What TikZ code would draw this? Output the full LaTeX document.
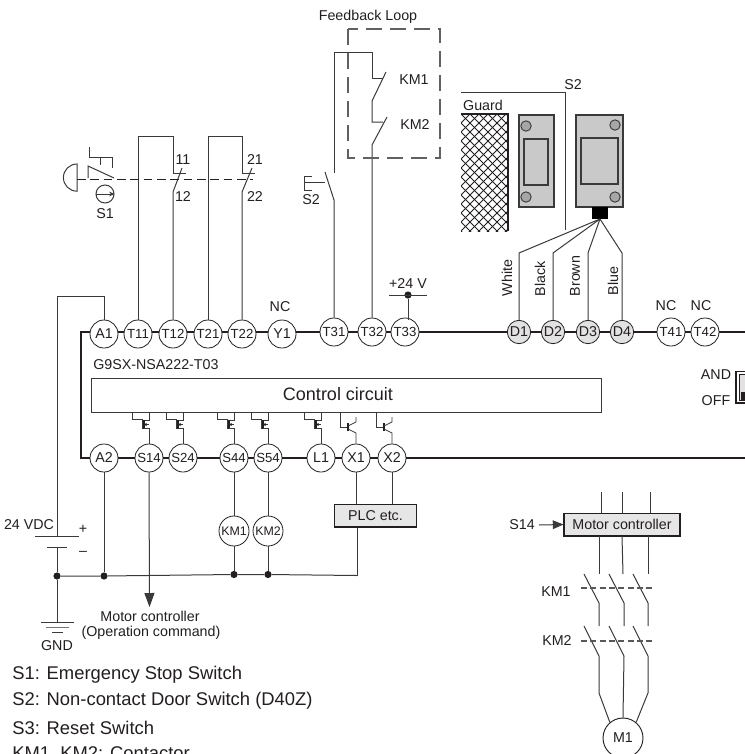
\documentclass[tikz,border=0pt]{standalone}
\usepackage{fontspec}
\setmainfont{Liberation Sans}
\usetikzlibrary{arrows.meta}
\definecolor{ink}{HTML}{231F20}
\definecolor{wire}{HTML}{3A3A3A}
\definecolor{sensor}{HTML}{C9C9C9}
\definecolor{bolt}{HTML}{A6A6A6}
\definecolor{termgray}{HTML}{E2E2E2}
\definecolor{boxgray}{HTML}{E6E6E6}
\newcommand\fsmall{\fontsize{10.7}{12.8}\selectfont}
\newcommand\fterm{\fontsize{9.9}{12}\selectfont}
\newcommand\fbig{\fontsize{13.8}{17}\selectfont}
\tikzset{
  wireline/.style={draw=wire,line width=0.75pt},
  busline/.style={draw=ink,line width=1.5pt,line join=miter},
  term/.style={circle,draw=ink,line width=0.6pt,fill=white,minimum size=21pt,inner sep=0pt,text=ink,font=\fterm},
  dterm/.style={term,fill=termgray,minimum size=17.5pt,font=\fsmall},
  coil/.style={term,minimum size=22.5pt,font=\fontsize{9.3}{11}\selectfont},
  lbl/.style={inner sep=0pt,text=ink,font=\fsmall},
  biglbl/.style={inner sep=0pt,text=ink,font=\fbig,anchor=west},
  graybox/.style={draw=ink,line width=0.8pt,fill=boxgray,inner sep=0pt,text=ink,font=\fsmall},
  fbdash/.style={draw=wire!80,line width=0.9pt,dash pattern=on 12pt off 6pt},
  stopdash/.style={draw=ink,line width=0.75pt,dash pattern=on 6.5pt off 3.5pt},
  kmdash/.style={draw=wire!85,line width=0.8pt,dash pattern=on 4.4pt off 2.6pt},
  jdot/.style={circle,fill=ink,inner sep=0pt,minimum size=5.4pt},
  sensorbody/.style={draw=wire,line width=0.8pt,fill=sensor},
  sensorbolt/.style={draw=wire,line width=0.7pt,fill=bolt},
}
\begin{document}
\begin{tikzpicture}[x=0.75pt,y=-0.75pt]
\useasboundingbox (0,0) rectangle (745,754);
\fill[white] (0,0) rectangle (745,754);

% ---- terminals
\foreach \n/\x in {A1/104,Y1/282}
  \node[term,font=\fsmall] (\n) at (\x,334) {\n};
\foreach \n/\x in {T11/138,T12/173,T21/208,T22/242}
  \node[term] (\n) at (\x,334) {\n};
\foreach \n/\x in {T31/334,T32/372,T33/405,T41/671,T42/705}
  \node[term] (\n) at (\x,332) {\n};
\foreach \n/\x in {D1/519,D2/553,D3/588,D4/622}
  \node[dterm] (\n) at (\x,332) {\n};
\foreach \n/\x in {A2/104,L1/321,X1/356,X2/392}
  \node[term,font=\fsmall] (\n) at (\x,458) {\n};
\foreach \n/\x in {S14/149,S24/183,S44/234,S54/268}
  \node[term] (\n) at (\x,458) {\n};

% ---- buses
\coordinate (busTL) at (81,332);
\coordinate (busBL) at (81,458);
\coordinate (busTR) at (745,332);
\coordinate (busBR) at (745,458);
\draw[busline] (A1.west |- busTL) -- (busTL) -- (busBL) -- (A2.west |- busBL);
\foreach \a/\b in {A1/T11,T11/T12,T12/T21,T21/T22,T22/Y1,Y1/T31,T31/T32,T32/T33,T33/D1,D1/D2,D2/D3,D3/D4,D4/T41,T41/T42}
  \draw[busline] (\a.east |- busTL) -- (\b.west |- busTL);
\draw[busline] (T42.east |- busTL) -- (busTR);
\foreach \a/\b in {A2/S14,S14/S24,S24/S44,S44/S54,S54/L1,L1/X1,X1/X2}
  \draw[busline] (\a.east |- busBL) -- (\b.west |- busBL);
\draw[busline] (X2.east |- busBL) -- (busBR);

% ---- control circuit
\node[lbl,anchor=west] (model) at (93,365) {G9SX-NSA222-T03};
\node[draw=wire,line width=0.8pt,minimum width=382.5pt,minimum height=25.5pt,inner sep=0pt,anchor=north west] (ctrl) at (91,378) {};
\node[inner sep=0pt,text=ink,font=\fontsize{13.5}{16}\selectfont] (ctrltxt) at (338,394) {Control circuit};
\foreach \t/\m in {S14/149,S24/183,S44/234,S54/268,L1/321}{
  \draw[wireline,line width=0.65pt] (\m,412) -- (\m,420) -- (\m-5,420);
  \draw[wireline,line width=0.65pt] (\m-17,412) -- (\m-17,419) -- (\m-7,419) -- (\m-7,429);
  \draw[draw=ink,line width=1pt] (\m-5,420) -- (\m-5,429);
  \draw[wireline,line width=0.65pt] (\m-5,424.5) -- (\m,424.5);
  \fill[ink] (\m-5,424.5) -- (\m-2.5,423) -- (\m-2.5,426) -- cycle;
  \draw[wireline,line width=0.65pt] (\m-5,428) -- (\m,428) -- (\t.north);
}
\foreach \t/\m in {X1/356,X2/392}{
  \draw[wireline,line width=0.65pt] (\m-16,412) -- (\m-16,427) -- (\m-8,427);
  \draw[draw=ink,line width=1pt] (\m-8,423) -- (\m-8,431);
  \draw[wireline,line width=0.65pt] (\m-8,426) -- (\m,422) -- (\m,417);
  \draw[wireline,line width=0.65pt] (\m-8,429) -- (\m,433) -- (\t.north);
}

% ---- emergency stop S1
\coordinate (t11top) at (138,136);
\coordinate (t11turn) at (173,136);
\coordinate (c11a) at (173,173);
\coordinate (c11b) at (186,173);
\coordinate (c12) at (173,192);
\coordinate (c12tip) at (182,168);
\draw[wireline] (T11.north) -- (t11top) -- (t11turn) -- (c11a) -- (c11b);
\draw[wireline] (T12.north) -- (c12) -- (c12tip);
\coordinate (t21top) at (208,136);
\coordinate (t21turn) at (242,136);
\coordinate (c21a) at (242,173);
\coordinate (c21b) at (255,173);
\coordinate (c22) at (242,192);
\coordinate (c22tip) at (252,168);
\draw[wireline] (T21.north) -- (t21top) -- (t21turn) -- (c21a) -- (c21b);
\draw[wireline] (T22.north) -- (c22) -- (c22tip);
\node[lbl] (l11) at (183,160) {11};
\node[lbl] (l12) at (183,197) {12};
\node[lbl] (l21) at (255,160) {21};
\node[lbl] (l22) at (255,197) {22};
\draw[stopdash] (77,179) -- (253,179);
\draw[wireline] (77,164) arc[start angle=90,end angle=270,radius=10.2pt] -- cycle;
\draw[wireline] (89,147) -- (89,157) -- (112,157) -- (112,168);
\draw[wireline] (100,157) -- (100,165);
\draw[wireline] (88,178) -- (88,166) -- (114,178);
\node[circle,draw=wire,line width=0.75pt,minimum size=13.5pt,inner sep=0pt] (s1dial) at (105,194) {};
\draw[wireline,-{Stealth[length=4pt,width=3.5pt]}] (s1dial.west) -- (s1dial.east);
\node[lbl] (s1lab) at (105,214) {S1};

% ---- S2 contact and feedback loop
\node[lbl,anchor=west] (s2lab) at (302,200) {S2};
\coordinate (s2b) at (334,200);
\coordinate (s2t) at (334,173);
\coordinate (s2a) at (325,172);
\draw[wireline] (T31.north) -- (s2b) -- (s2a);
\draw[wireline] (312,176) -- (304,176) -- (304,190) -- (312,190);
\draw[wireline] (304,182) -- (325,182);
\coordinate (fbtl) at (334,52);
\coordinate (fbtr) at (372,52);
\draw[wireline] (s2t) -- (fbtl) -- (fbtr) -- (372,78) -- (383,78);
\draw[wireline] (386,72) -- (372,101) -- (372,122) -- (383,122);
\draw[wireline] (387,117) -- (372,145) -- (T32.north);
\draw[fbdash] (348,29) rectangle (440,158);
\node[lbl] (fblab) at (368,17) {Feedback Loop};
\node[lbl] (km1a) at (414,80) {KM1};
\node[lbl] (km2a) at (415,125) {KM2};

% ---- A1 supply
\coordinate (a1turn) at (104,296);
\coordinate (a1left) at (57,296);
\coordinate (batTop) at (57,536);
\coordinate (batLow) at (57,547);
\draw[wireline] (A1.north) -- (a1turn) -- (a1left) -- (batTop);
\draw[wireline] (35,536) -- (79,536);
\draw[wireline] (47,547) -- (67,547);
\node[lbl] (vdc) at (29,525) {24 VDC};
\node[lbl] (plus) at (83,529) {+};
\node[lbl] (minus) at (83,553) {–};

% ---- common line
\node[jdot] (jgnd) at (57,576) {};
\node[jdot] (ja2) at (104,576) {};
\node[jdot] (jk1) at (234,574.5) {};
\node[jdot] (jk2) at (268,574.5) {};
\coordinate (jplc) at (357,575.5);
\draw[wireline] (batLow) -- (jgnd);
\draw[wireline] (jgnd) -- (ja2) -- (jk1) -- (jk2) -- (jplc);
\draw[wireline] (A2.south) -- (ja2);
\node[coil] (KM1) at (234,531) {KM1};
\node[coil] (KM2) at (268,531) {KM2};
\draw[wireline] (S44.south) -- (KM1.north);
\draw[wireline] (S54.south) -- (KM2.north);
\draw[wireline] (KM1.south) -- (jk1);
\draw[wireline] (KM2.south) -- (jk2);
\node[graybox,minimum width=62pt,minimum height=17.2pt] (PLC) at (375.5,515.5) {PLC etc.};
\draw[wireline] (X1.south) -- (X1.south |- PLC.north);
\draw[wireline] (X2.south) -- (X2.south |- PLC.north);
\draw[wireline] (jplc) -- (jplc |- PLC.south);
\coordinate (arrowtip) at (149.5,607);
\draw[wireline,-{Triangle[length=10.5pt,width=7.5pt]}] (S14.south) -- (arrowtip);
\node[lbl] (mc1) at (150,616) {Motor controller};
\node[lbl] (mc2) at (151,633) {(Operation command)};

% ---- ground
\coordinate (gnd) at (57,622);
\draw[wireline] (jgnd) -- (gnd);
\draw[wireline] (41,622) -- (74,622);
\draw[wireline,draw=wire!70] (46,627) -- (69,627);
\draw[wireline] (52,632) -- (63,632);
\node[lbl] (gndl) at (57,646) {GND};

% ---- legend
\node[biglbl] (leg1) at (12,674.5) {S1: Emergency Stop Switch};
\node[biglbl] (leg2) at (12,701) {S2: Non-contact Door Switch (D40Z)};
\node[biglbl] (leg3) at (12,727.5) {S3: Reset Switch};
\node[biglbl] (leg4) at (12,754) {KM1, KM2: Contactor};

% ---- guard and door switch
\node[lbl] (s2top) at (573,85) {S2};
\draw[wireline] (461,92) -- (565,92) -- (565,230);
\node[lbl] (guard) at (483,105) {Guard};
\begin{scope}
  \clip (461,114) rectangle (508,231);
  \foreach \c in {-126,-117,...,54}
    \draw[draw=ink,line width=0.55pt] (461+\c,114) -- (461+\c+120,234);
  \foreach \c in {0,9,...,180}
    \draw[draw=ink,line width=0.55pt] (461+\c,114) -- (461+\c-120,234);
\end{scope}
\draw[draw=ink,line width=0.8pt] (461,114) -- (508,114) -- (508,231);
\draw[sensorbody] (519,115) rectangle (554,207);
\draw[sensorbody] (524,139) rectangle (548,185);
\draw[sensorbolt] (526,126) circle[radius=3.9pt];
\draw[sensorbolt] (526,197) circle[radius=3.9pt];
\draw[sensorbody] (576,115) rectangle (623,207);
\draw[sensorbody] (581,138) rectangle (618,184);
\draw[sensorbolt] (615,125) circle[radius=3.9pt];
\draw[sensorbolt] (615,197) circle[radius=3.9pt];
\fill[black] (592,207) rectangle (608,219);
\coordinate (plug) at (600,219);
\foreach \n/\x in {D1/519,D2/553,D3/588,D4/622}{
  \draw[wireline] (plug) -- (\x,253) -- (\n.north);
}
\node[lbl,rotate=90] (white) at (507,278) {White};
\node[lbl,rotate=90] (black) at (540,279) {Black};
\node[lbl,rotate=90] (brown) at (575,276) {Brown};
\node[lbl,rotate=90] (blue) at (613,281) {Blue};

% ---- labels above terminals
\node[lbl] (plus24) at (408,284) {+24 V};
\node[jdot] (j24) at (408,295) {};
\draw[wireline] (389,295) -- (427,295);
\draw[wireline] (j24) -- (408,319.5);
\node[lbl] (nc1) at (280,307) {NC};
\node[lbl] (nc2) at (666,306) {NC};
\node[lbl] (nc3) at (701,306) {NC};

% ---- AND / OFF switch
\node[lbl] (andl) at (716,375) {AND};
\node[lbl] (offl) at (716,401) {OFF};
\draw[draw=ink,line width=1.2pt,fill=white] (746,371.5) -- (736,371.5) -- (736,403) -- (746,403);
\draw[draw=ink,line width=0.7pt,fill=termgray] (746,374.5) -- (739,374.5) -- (739,400) -- (746,400);
\fill[ink] (741,392) rectangle (745,400);

% ---- motor circuit
\node[lbl] (s14r) at (522,525) {S14};
\node[graybox,minimum width=87pt,minimum height=17.2pt] (MC) at (622,524.5) {Motor controller};
\coordinate (s14from) at (539,525);
\draw[wireline,-{Triangle[length=8pt,width=6.5pt]}] (s14from) -- (MC.west);
\foreach \x in {601,622,650}
  \draw[wireline] (\x,492) -- (\x,513);
\coordinate (m1a) at (599,574);
\coordinate (m2a) at (623,574);
\coordinate (m3a) at (648,574);
\draw[wireline] (599,536) -- (m1a);
\draw[wireline] (622,536) -- (m2a);
\draw[wireline] (648,536) -- (m3a);
\foreach \x in {599,624,648}{
  \draw[wireline] (\x-15,574) -- (\x,603) -- (\x,626);
  \draw[wireline] (\x-15,626) -- (\x,656);
}
\draw[kmdash] (581,588) -- (652,588);
\draw[kmdash] (581,641) -- (652,641);
\node[lbl] (km1b) at (556,592) {KM1};
\node[lbl] (km2b) at (557,641) {KM2};
\node[circle,draw=ink,line width=0.7pt,minimum size=30pt,inner sep=0pt,text=ink,font=\fsmall] (M1) at (623,738) {M1};
\draw[wireline] (599,656) -- (599,693) -- (M1.130);
\draw[wireline] (624,656) -- (M1.north);
\draw[wireline] (648,656) -- (648,693) -- (M1.50);
\end{tikzpicture}
\end{document}
